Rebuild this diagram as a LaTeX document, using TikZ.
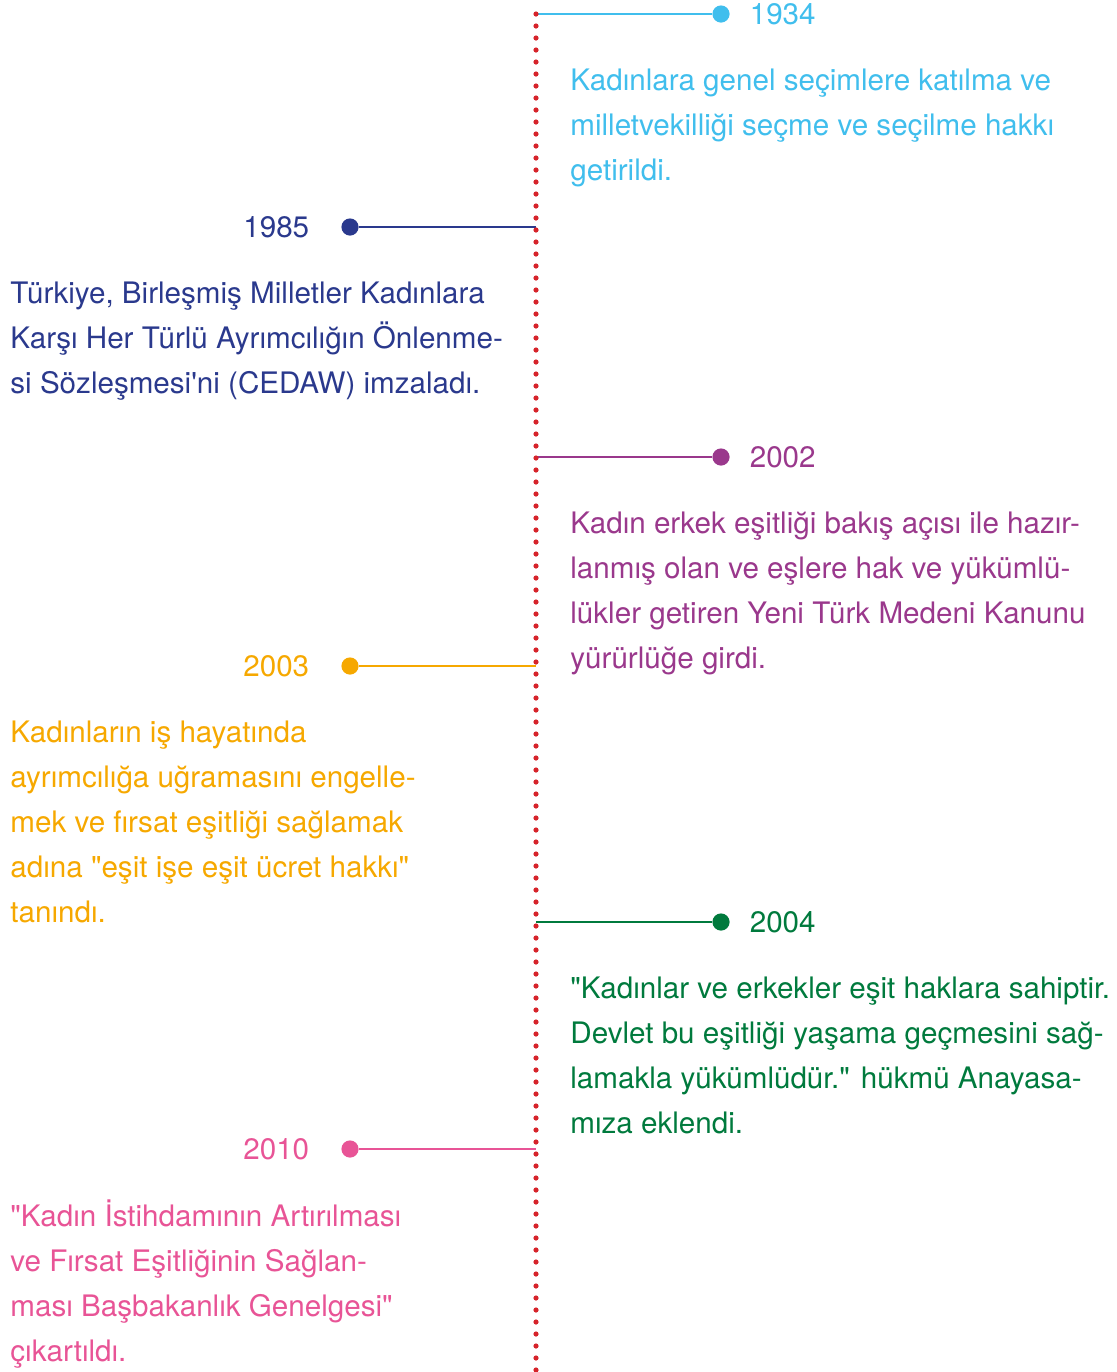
\documentclass[tikz,border=0pt]{standalone}
\usepackage{fontspec}
\setmainfont{TeX Gyre Heros}
\usetikzlibrary{positioning}
\definecolor{skyblue}{RGB}{64,190,237}
\definecolor{navy}{RGB}{42,57,141}
\definecolor{plum}{RGB}{154,56,140}
\definecolor{amber}{RGB}{246,168,0}
\definecolor{forest}{RGB}{0,122,61}
\definecolor{rose}{RGB}{232,84,150}
\definecolor{axisred}{RGB}{214,35,42}

\begin{document}
\begin{tikzpicture}[x=0.5pt,y=-0.5pt,font=\fontsize{14.8}{22.5}\selectfont,
  pin/.style={circle,fill,inner sep=0pt,minimum size=8.6pt},
  year/.style={inner sep=0pt},
  body/.style={align=left,inner sep=0pt,anchor=north west},
  link/.style={line width=1.3pt},
  axisline/.style={axisred,line width=2.6pt,line cap=round,dash pattern=on 0pt off 6pt}]
\useasboundingbox (0,0) rectangle (1117,1372);

% 1934
\coordinate (a1934) at (536,14);
\node[pin,skyblue] (d1934) at (721,14) {};
\node[year,skyblue,right=9.7pt of d1934] (y1934) {1934};
\node[body,skyblue] (t1934) at (570,58.5) {\strut Kadınlara genel seçimlere katılma ve\\milletvekilliği seçme ve seçilme hakkı\\getirildi.};
\draw[link,skyblue] (a1934) -- (d1934);

% 1985
\coordinate (a1985) at (536,227);
\node[pin,navy] (d1985) at (350,227) {};
\node[year,navy,left=15.7pt of d1985] (y1985) {1985};
\node[body,navy] (t1985) at (10,271.5) {\strut Türkiye, Birleşmiş Milletler Kadınlara\\Karşı Her Türlü Ayrımcılığın Önlenme-\\si Sözleşmesi\textquotesingle ni (CEDAW) imzaladı.};
\draw[link,navy] (a1985) -- (d1985);

% 2002
\coordinate (a2002) at (536,457);
\node[pin,plum] (d2002) at (721,457) {};
\node[year,plum,right=9.7pt of d2002] (y2002) {2002};
\node[body,plum] (t2002) at (570,501.5) {\strut Kadın erkek eşitliği bakış açısı ile hazır-\\lanmış olan ve eşlere hak ve yükümlü-\\lükler getiren Yeni Türk Medeni Kanunu\\yürürlüğe girdi.};
\draw[link,plum] (a2002) -- (d2002);

% 2003
\coordinate (a2003) at (536,666);
\node[pin,amber] (d2003) at (350,666) {};
\node[year,amber,left=15.7pt of d2003] (y2003) {2003};
\node[body,amber] (t2003) at (10,710.5) {\strut Kadınların iş hayatında\\ayrımcılığa uğramasını engelle-\\mek ve fırsat eşitliği sağlamak\\adına \textquotedbl eşit işe eşit ücret hakkı\textquotedbl\\tanındı.};
\draw[link,amber] (a2003) -- (d2003);

% 2004
\coordinate (a2004) at (536,922);
\node[pin,forest] (d2004) at (721,922) {};
\node[year,forest,right=9.7pt of d2004] (y2004) {2004};
\node[body,forest] (t2004) at (570,967) {\strut \textquotedbl Kadınlar ve erkekler eşit haklara sahiptir.\\Devlet bu eşitliği yaşama geçmesini sağ-\\lamakla yükümlüdür.\textquotedbl{} hükmü Anayasa-\\mıza eklendi.};
\draw[link,forest] (a2004) -- (d2004);

% 2010
\coordinate (a2010) at (536,1149);
\node[pin,rose] (d2010) at (350,1149) {};
\node[year,rose,left=15.7pt of d2010] (y2010) {2010};
\node[body,rose] (t2010) at (10,1195) {\strut \textquotedbl Kadın İstihdamının Artırılması\\ve Fırsat Eşitliğinin Sağlan-\\ması Başbakanlık Genelgesi\textquotedbl\\çıkartıldı.};
\draw[link,rose] (a2010) -- (d2010);

% timeline axis
\coordinate (axisend) at (536,1372);
\draw[axisline] (a1934) -- (axisend);
\end{tikzpicture}
\end{document}
